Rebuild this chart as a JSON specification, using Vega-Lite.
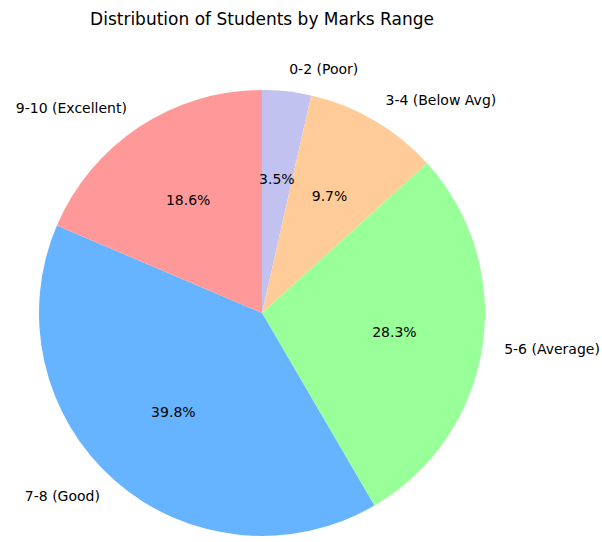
{
  "$schema": "https://vega.github.io/schema/vega-lite/v6.json",
  "autosize": {"type": "none"},
  "padding": {"top": 84, "left": 0, "right": 78, "bottom": 0},
  "width": 524,
  "height": 458,
  "background": "white",
  "config": {"view": {"stroke": null}, "font": "DejaVu Sans"},
  "title": {
    "text": "Distribution of Students by Marks Range",
    "font": "DejaVu Sans",
    "fontSize": 17,
    "fontWeight": "normal",
    "color": "#000000",
    "anchor": "middle",
    "baseline": "alphabetic",
    "offset": 21
  },
  "data": {
    "values": [
      {"range": "0-2 (Poor)", "count": 4, "pct": "3.5%", "order": 1, "side": "right"},
      {"range": "3-4 (Below Avg)", "count": 11, "pct": "9.7%", "order": 2, "side": "right"},
      {"range": "5-6 (Average)", "count": 32, "pct": "28.3%", "order": 3, "side": "right"},
      {"range": "7-8 (Good)", "count": 45, "pct": "39.8%", "order": 4, "side": "left"},
      {"range": "9-10 (Excellent)", "count": 21, "pct": "18.6%", "order": 5, "side": "left"}
    ]
  },
  "encoding": {
    "theta": {"field": "count", "type": "quantitative", "stack": true},
    "order": {"field": "order", "type": "quantitative"}
  },
  "layer": [
    {
      "mark": {"type": "arc", "outerRadius": 223, "strokeWidth": 0},
      "encoding": {
        "color": {
          "field": "range",
          "type": "nominal",
          "sort": null,
          "scale": {
            "domain": ["0-2 (Poor)", "3-4 (Below Avg)", "5-6 (Average)", "7-8 (Good)", "9-10 (Excellent)"],
            "range": ["#c2c2f0", "#ffcc99", "#99ff99", "#66b3ff", "#ff9999"]
          },
          "legend": null
        }
      }
    },
    {
      "mark": {"type": "text", "radius": 134, "fontSize": 14, "font": "DejaVu Sans", "color": "#000000", "align": "center", "baseline": "middle"},
      "encoding": {"text": {"field": "pct", "type": "nominal"}}
    },
    {
      "mark": {"type": "text", "radius": 245, "fontSize": 14, "font": "DejaVu Sans", "color": "#000000", "align": "left", "baseline": "middle"},
      "encoding": {"text": {"condition": {"test": "datum.side === 'right'", "field": "range"}, "value": ""}}
    },
    {
      "mark": {"type": "text", "radius": 245, "fontSize": 14, "font": "DejaVu Sans", "color": "#000000", "align": "right", "baseline": "middle"},
      "encoding": {"text": {"condition": {"test": "datum.side === 'left'", "field": "range"}, "value": ""}}
    }
  ]
}
